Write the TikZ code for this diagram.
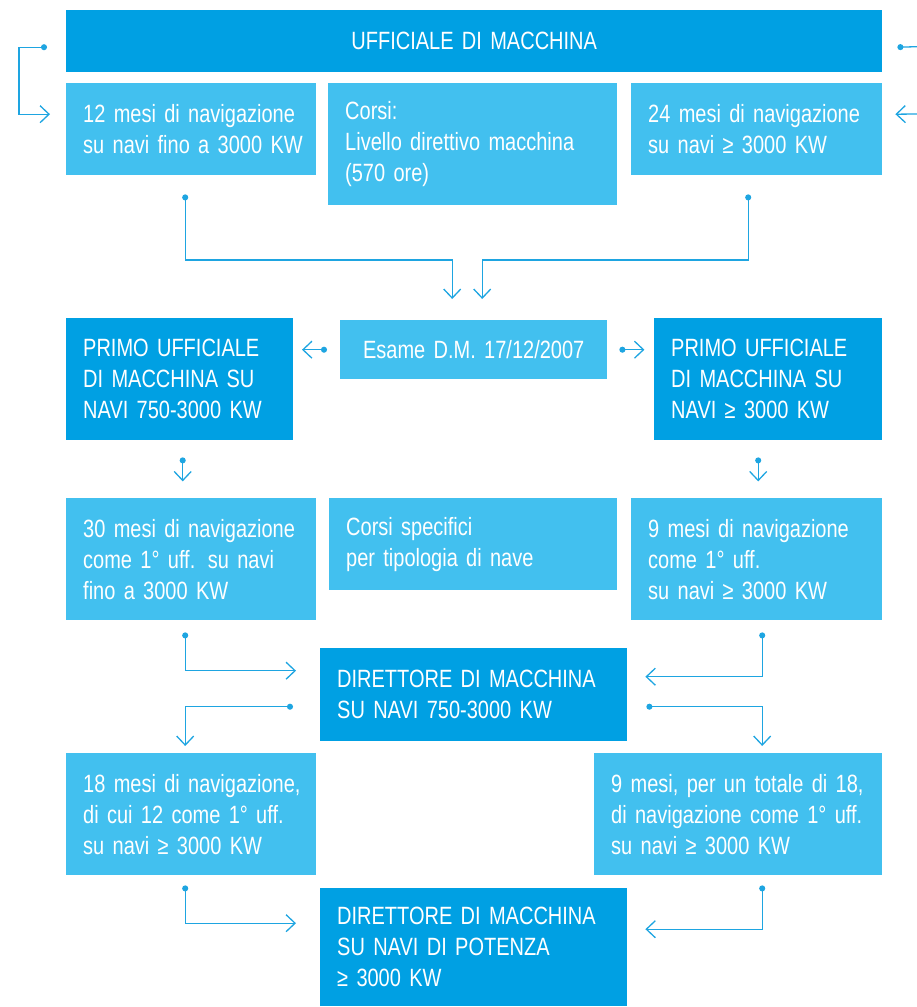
\documentclass[tikz,border=0pt]{standalone}
\usepackage{fontspec}
\setmainfont{Liberation Sans}[FakeStretch=0.8,WordSpace=0.75]
\usetikzlibrary{arrows.meta,calc}
\definecolor{dkblue}{RGB}{0,160,227}
\definecolor{ltblue}{RGB}{66,192,239}
\definecolor{lnblue}{RGB}{30,165,225}
\newcommand\boxfont{\fontsize{25}{31}\selectfont}
\newcommand\tl[1]{\mbox{#1}}
\tikzset{
  boxbase/.style={anchor=north west, text=white, inner xsep=17pt, inner ysep=0pt,
    align=left, font=\boxfont, minimum width=#1, text width=#1-34pt},
  darkbox/.style={boxbase=#1, fill=dkblue},
  lightbox/.style={boxbase=#1, fill=ltblue},
  conn/.style={draw=lnblue, line width=1.3pt,
    {Circle[length=6pt]}-{Straight Barb[length=9pt,width=17pt]}},
  openend/.style={draw=lnblue, line width=1.3pt, {Circle[length=6pt]}-},
  arrowend/.style={draw=lnblue, line width=1.3pt, -{Straight Barb[length=9pt,width=17pt]}},
}
\begin{document}
\begin{tikzpicture}[x=1pt,y=-1pt]
\useasboundingbox (0,0) rectangle (917,1007);
% boxes
\node[darkbox=816pt, minimum height=62pt, align=center] (top) at (66,10) {UFFICIALE DI MACCHINA};
\node[lightbox=250pt, minimum height=92pt] (b1) at (66,83) {\tl{12 mesi di navigazione}\\\tl{su navi fino a 3000 KW}};
\node[lightbox=289pt, minimum height=122pt] (b2) at (328,83) {\tl{Corsi:}\\\tl{Livello direttivo macchina}\\\tl{(570 ore)}};
\node[lightbox=251pt, minimum height=92pt] (b3) at (631,83) {\tl{24 mesi di navigazione}\\\tl{su navi ≥ 3000 KW}};
\node[lightbox=267pt, minimum height=59pt, align=center] (exam) at (340,320) {Esame D.M. 17/12/2007};
\node[darkbox=227pt, minimum height=122pt] (p1) at (66,318) {\tl{PRIMO UFFICIALE}\\\tl{DI MACCHINA SU}\\\tl{NAVI 750-3000 KW}};
\node[darkbox=228pt, minimum height=122pt] (p2) at (654,318) {\tl{PRIMO UFFICIALE}\\\tl{DI MACCHINA SU}\\\tl{NAVI ≥ 3000 KW}};
\node[lightbox=250pt, minimum height=122pt] (c1) at (66,498) {\tl{30 mesi di navigazione}\\\tl{come 1° uff. su navi}\\\tl{fino a 3000 KW}};
\node[lightbox=288pt, minimum height=92pt] (c2) at (329,498) {\tl{Corsi specifici}\\\tl{per tipologia di nave}};
\node[lightbox=251pt, minimum height=122pt] (c3) at (631,498) {\tl{9 mesi di navigazione}\\\tl{come 1° uff.}\\\tl{su navi ≥ 3000 KW}};
\node[darkbox=307pt, minimum height=93pt] (dir1) at (320,648) {\tl{DIRETTORE DI MACCHINA}\\\tl{SU NAVI 750-3000 KW}};
\node[lightbox=250pt, minimum height=122pt] (d1) at (66,753) {\tl{18 mesi di navigazione,}\\\tl{di cui 12 come 1° uff.}\\\tl{su navi ≥ 3000 KW}};
\node[lightbox=288pt, minimum height=122pt] (d3) at (594,753) {\tl{9 mesi, per un totale di 18,}\\\tl{di navigazione come 1° uff.}\\\tl{su navi ≥ 3000 KW}};
\node[darkbox=307pt, minimum height=118pt] (dir2) at (320,888) {\tl{DIRETTORE DI MACCHINA}\\\tl{SU NAVI DI POTENZA}\\\tl{≥ 3000 KW}};
% outer loop connectors
\coordinate (lstart) at ($(top.west)+(-19,6)$);
\coordinate (lend) at ($(b1.west)+(-16,-15)$);
\draw[conn] (lstart) -- ++(-28,0) |- (lend);
\coordinate (rstart) at ($(top.east)+(15,6)$);
\coordinate (redge) at (917,46.7);
\draw[openend] (rstart) -- (redge);
\coordinate (rin) at (917,114);
\coordinate (rend) at ($(b3.east)+(13,-15)$);
\draw[arrowend] (rin) -- (rend);
% row 1 to exam
\coordinate (e1s) at ($(b1.south)+(-6,19)$);
\coordinate (e1t) at ($(exam.north)+(-21.5,-21)$);
\draw[conn] (e1s) |- ($(e1t)+(0,-39)$) -- (e1t);
\coordinate (e3s) at ($(b3.south)+(-8.5,19)$);
\coordinate (e3t) at ($(exam.north)+(8.5,-21)$);
\draw[conn] (e3s) |- ($(e3t)+(0,-39)$) -- (e3t);
% exam to primo
\draw[conn] ($(exam.west)+(-13,0)$) -- ($(exam.west)+(-38,0)$);
\draw[conn] ($(exam.east)+(12,0)$) -- ($(exam.east)+(37,0)$);
% primo down
\draw[conn] ($(p1.south)+(3,17)$) -- ($(p1.south)+(3,41)$);
\draw[conn] ($(p2.south)+(-10,17)$) -- ($(p2.south)+(-10,41)$);
% row3 to dir1
\draw[conn] ($(c1.south)+(-6,12)$) |- ($(dir1.west)+(-24,-24)$);
\draw[conn] ($(c3.south)+(5.5,12)$) |- ($(dir1.east)+(18,-18)$);
% dir1 to row4
\draw[conn] ($(dir1.west)+(-27,12)$) -| ($(d1.north)+(-6,-7)$);
\draw[conn] ($(dir1.east)+(19,12)$) -| ($(d3.north)+(24,-7)$);
% row4 to dir2
\draw[conn] ($(d1.south)+(-6,10)$) |- ($(dir2.west)+(-24,-24)$);
\draw[conn] ($(d3.south)+(24,10)$) |- ($(dir2.east)+(18,-18)$);
\end{tikzpicture}
\end{document}
